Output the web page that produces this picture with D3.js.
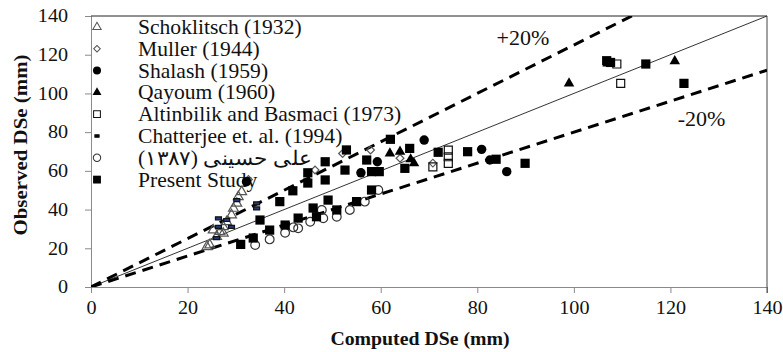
<!DOCTYPE html>
<html>
<head>
<meta charset="utf-8">
<script src="https://cdn.jsdelivr.net/npm/d3@7"></script>
<style>
  body { margin: 0; background: #fff; }
  text { font-family: 'Liberation Serif', 'Times New Roman', serif; fill: #111; }
</style>
</head>
<body>
<svg id="chart" width="783" height="352"></svg>
<script>
// values, [computed, observed] in mm
const schoklitsch = [[24.6,21.7],[24,20.8],[26,26],[25.3,29.4],[26.7,28.6],[27.4,27.7],[27.4,31.1],[28.1,33.7],[29.1,37.2],[29.5,40.6],[30.2,43.2],[30.5,46.6],[31.2,49.2]];
const muller = [[32.6,55.5],[46.4,60.4],[52.1,69],[57.9,70.8],[64,66.5],[70.8,64]];
const shalash = [[32.2,54.4],[55.9,59],[59.3,64.7],[69,75.9],[80.9,71.1],[82.6,65.6],[86.1,59.6]];
const qayoum = [[61.9,69],[64,69.9],[66.2,66],[66.9,63.9],[99,105.2],[107,115.5],[120.9,116.7]];
const altinbilik = [[70.8,62.1],[74,70.7],[74,67.3],[74,63.9],[108.9,115.2],[109.7,105.2]];
const chatterjee = [[26,25.2],[26.4,31.1],[26.4,35.5],[28.1,34.6],[29.1,31.1],[30.2,44.9],[34.3,43.2],[34.3,40.6]];
const hosseini = [[34,21.7],[37,24.6],[40.2,28],[41.9,30.8],[42.9,30.3],[45.4,33.7],[47.8,39.8],[48.1,35.5],[50.9,36.3],[53.6,39.8],[56.7,44.1],[59.5,50.1]];
const presentStudy = [[31,22],[33.6,25.3],[35,34.6],[37,29.4],[39.1,44.1],[40.2,32],[41.8,49.7],[42.9,35.6],[44.9,53.7],[44.9,59],[46,40.8],[46.7,36.3],
  [48.5,64.7],[48.5,55.3],[49.1,44.9],[50.9,39.8],[52.9,70.8],[52.6,60.4],[55,44.1],[57.1,65.6],[58.1,59.6],[59.7,59.6],[58.1,50.1],
  [62,76.3],[66,71.6],[65,61.3],[71.9,69.6],[78,69.9],[83.9,66],[89.9,63.9],[106.8,116.9],[107.6,116],[114.9,115.2],[122.8,105.2]];

const legendNames = ['Schoklitsch (1932)','Muller (1944)','Shalash (1959)','Qayoum (1960)','Altinbilik and Basmaci (1973)','Chatterjee et. al. (1994)','\u202Bعلی حسینی (۱۳۸۷)\u202C','Present Study'];
const xTicks = [0,20,40,60,80,100,120,140];
const yTicks = [0,20,40,60,80,100,120,140];
const bandFactors = [1.25, 0.8];
const bandLabels = ['+20%', '-20%'];

const svg = d3.select('#chart');
const mLeft = 91, mRight = 767, mTop = 16, mBottom = 287;
const x = d3.scaleLinear().domain([0,140]).range([mLeft,mRight]);
const y = d3.scaleLinear().domain([0,140]).range([mBottom,mTop]);

// axes
const yAxis = svg.append('g').attr('transform', `translate(${mLeft},0)`)
  .call(d3.axisLeft(y).tickValues(yTicks).tickSize(6).tickPadding(14.5));
const xAxis = svg.append('g').attr('transform', `translate(0,${mBottom})`)
  .call(d3.axisBottom(x).tickValues(xTicks).tickSize(6).tickPadding(8));
[yAxis, xAxis].forEach(a => {
  a.attr('font-family', null);
  a.select('.domain').attr('stroke', '#8a8a8a');
  a.selectAll('.tick line').attr('stroke', '#8a8a8a');
  a.selectAll('.tick text').attr('font-size', 18).attr('fill', '#111')
    .style('font-family', "'Liberation Serif', serif");
});
yAxis.selectAll('.tick text').attr('transform', 'scale(1.12,1)');
xAxis.selectAll('.tick text').attr('transform', 'scale(1.12,1)');

// frame top / right
svg.append('line').attr('x1', mLeft).attr('x2', mRight).attr('y1', mTop).attr('y2', mTop).attr('stroke', '#222');
svg.append('line').attr('x1', mRight).attr('x2', mRight).attr('y1', mTop).attr('y2', mBottom + 6).attr('stroke', '#444');

// axis titles
svg.append('text').attr('transform', `translate(420,345) scale(1.1,1)`)
  .attr('text-anchor', 'middle').attr('font-size', 18).attr('font-weight', 'bold').text('Computed DSe (mm)');
svg.append('text').attr('transform', 'translate(27,145) rotate(-90) scale(1.1,1)')
  .attr('text-anchor', 'middle').attr('font-size', 19).attr('font-weight', 'bold').text('Observed DSe (mm)');

// 1:1 line and ±20% lines
svg.append('clipPath').attr('id', 'plot').append('rect')
  .attr('x', mLeft).attr('y', mTop).attr('width', mRight - mLeft).attr('height', mBottom - mTop);
const line = d3.line().x(d => x(d[0])).y(d => y(d[1]));
svg.append('path').attr('d', line([[0,0],[140,140]])).attr('stroke', '#333').attr('stroke-width', 1).attr('fill', 'none');
bandFactors.forEach(f => {
  svg.append('path').attr('clip-path', 'url(#plot)')
    .attr('d', line([[0,0],[140, 140*f]]))
    .attr('stroke', '#000').attr('stroke-width', 3).attr('stroke-dasharray', '11,7').attr('fill', 'none');
});
svg.append('text').attr('transform', `translate(${x(84)},45) scale(1.1,1)`).attr('font-size', 20).text(bandLabels[0]);
svg.append('text').attr('transform', `translate(${x(121.5)},126) scale(1.1,1)`).attr('font-size', 20).text(bandLabels[1]);

// symbols
const series = [
  { data: schoklitsch, path: d3.symbol().type(d3.symbolTriangle).size(42)(), fill: 'none', stroke: '#555', rot: 0 },
  { data: muller, path: d3.symbol().type(d3.symbolSquare).size(30)(), fill: 'none', stroke: '#555', rot: 45 },
  { data: shalash, path: d3.symbol().type(d3.symbolCircle).size(70)(), fill: '#000', stroke: 'none', rot: 0 },
  { data: qayoum, path: d3.symbol().type(d3.symbolTriangle).size(48)(), fill: '#000', stroke: 'none', rot: 0 },
  { data: altinbilik, path: d3.symbol().type(d3.symbolSquare).size(64)(), fill: 'none', stroke: '#111', rot: 0 },
  { data: chatterjee, path: 'M-3,-1.5H3V1.5H-3Z', fill: '#233a78', stroke: '#111', rot: 0 },
  { data: hosseini, path: d3.symbol().type(d3.symbolCircle).size(60)(), fill: 'none', stroke: '#333', rot: 0 },
  { data: presentStudy, path: d3.symbol().type(d3.symbolSquare).size(85)(), fill: '#000', stroke: 'none', rot: 0 }
];

// legend (drawn under the points)
const legend = svg.append('g');
legendNames.forEach((name, i) => {
  const cy = 27 + i * 21.8;
  const s = series[i];
  const small = i === 5 ? 'M-2.5,-1.5H2.5V1.5H-2.5Z' : s.path;
  legend.append('path').attr('d', small)
    .attr('transform', `translate(97,${cy}) rotate(${s.rot}) scale(0.85)`)
    .attr('fill', i === 5 ? '#000' : s.fill).attr('stroke', s.stroke).attr('stroke-width', 1.2);
  legend.append('text').attr('transform', `translate(138,${cy + 7}) scale(1.08,1)`)
    .attr('font-size', 20).text(name);
});

series.forEach(s => {
  svg.append('g').selectAll('path').data(s.data).join('path')
    .attr('d', s.path)
    .attr('transform', d => `translate(${x(d[0])},${y(d[1])}) rotate(${s.rot})`)
    .attr('fill', s.fill).attr('stroke', s.stroke).attr('stroke-width', 1.2);
});
</script>
</body>
</html>
